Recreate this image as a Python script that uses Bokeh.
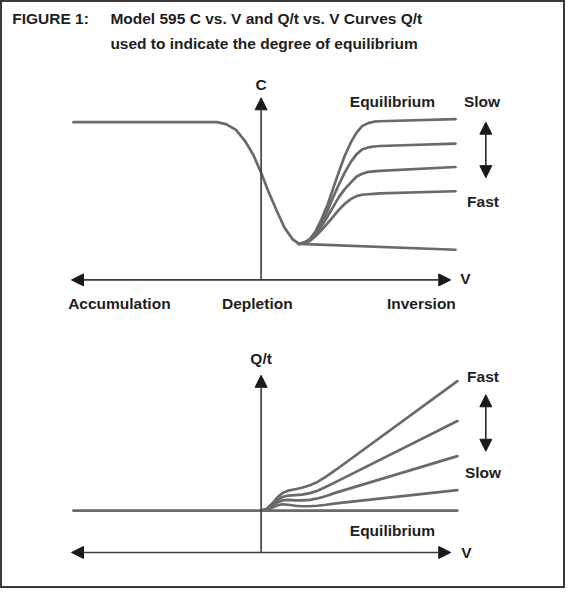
from bokeh.plotting import figure
from bokeh.models import Range1d, Arrow, NormalHead
from bokeh.core.properties import value
from bokeh.embed import file_html
from bokeh.resources import INLINE

# ---------------- data ----------------
# Top chart: C vs. V (schematic units)
dep_v = [-3.96, -0.94, -0.74, -0.53, -0.33, -0.16, 0.00, 0.16, 0.33, 0.49, 0.66, 0.80]
dep_c = [1.000, 1.000, 0.988, 0.951, 0.877, 0.790, 0.679, 0.556, 0.438, 0.333, 0.259, 0.228]

branch_v = [0.80, 0.90, 1.03, 1.15, 1.27, 1.40, 1.52, 1.64, 1.76, 1.89, 2.01, 2.13, 2.26, 2.38, 2.50, 4.10]
c_equilibrium = [0.228, 0.235, 0.259, 0.309, 0.383, 0.475, 0.580, 0.685, 0.784, 0.870, 0.932, 0.975, 0.994, 1.003, 1.006, 1.019]
c_sweep2 = [0.228, 0.235, 0.253, 0.296, 0.358, 0.438, 0.525, 0.605, 0.679, 0.747, 0.796, 0.827, 0.840, 0.846, 0.849, 0.864]
c_sweep3 = [0.228, 0.235, 0.253, 0.290, 0.340, 0.401, 0.463, 0.525, 0.574, 0.617, 0.654, 0.673, 0.685, 0.688, 0.691, 0.716]
c_sweep4 = [0.228, 0.235, 0.247, 0.278, 0.315, 0.358, 0.401, 0.444, 0.481, 0.512, 0.531, 0.540, 0.543, 0.546, 0.549, 0.562]
deep_v = [0.80, 4.10]
c_deep = [0.228, 0.191]

# Bottom chart: Q/t vs. V (schematic units)
q_flat_v = [-3.96, 4.14]
q_flat = [0.43, 0.43]
q_v = [0.00, 0.12, 0.25, 0.35, 0.45, 0.57, 0.72, 0.86, 1.03, 1.19, 1.37, 1.58, 4.14]
q_fast = [0.43, 0.45, 0.51, 0.57, 0.61, 0.635, 0.65, 0.665, 0.69, 0.725, 0.78, 0.85, 1.76]
q_sweep2 = [0.43, 0.445, 0.49, 0.54, 0.57, 0.585, 0.59, 0.595, 0.61, 0.635, 0.675, 0.725, 1.35]
q_sweep3 = [0.43, 0.44, 0.48, 0.515, 0.535, 0.54, 0.535, 0.535, 0.54, 0.555, 0.58, 0.615, 0.99]
q_slow = [0.43, 0.44, 0.465, 0.485, 0.495, 0.49, 0.48, 0.475, 0.475, 0.48, 0.49, 0.505, 0.64]

title_lead = "FIGURE 1:"
title_line1 = "Model 595 C vs. V and Q/t vs. V Curves Q/t"
title_line2 = "used to indicate the degree of equilibrium"

top_labels = ["C", "V", "Accumulation", "Depletion", "Inversion", "Equilibrium", "Slow", "Fast"]
bot_labels = ["Q/t", "V", "Equilibrium", "Fast", "Slow"]

# ---------------- layout ----------------
W, H = 565, 588
REF_W, REF_H = 581, 604
V0, VS = 268.0, 48.75        # ref-pixel of V=0, pixels per V unit
C0, CS = 287.0, 162.0        # ref-pixel of C=0, pixels per C unit
Q0, QS = 567.0, 100.0        # ref-pixel of Q=0, pixels per Q unit

p = figure(width=W, height=H, output_backend="svg", toolbar_location=None,
           x_range=Range1d(0, REF_W), y_range=Range1d(REF_H, 0),
           x_axis_type=None, y_axis_type=None, min_border=0)
p.grid.visible = False
p.outline_line_color = "#3a3a3a"
p.outline_line_width = 3
p.background_fill_color = "white"
p.border_fill_color = "white"

p.extra_x_ranges = {"v": Range1d((0 - V0) / VS, (REF_W - V0) / VS)}
p.extra_y_ranges = {
    "c": Range1d((C0 - REF_H) / CS, C0 / CS),
    "q": Range1d((Q0 - REF_H) / QS, Q0 / QS),
}

CURVE = "#6a6a6a"
AXIS = "#3c3c3c"
HEAD = "#1a1a1a"
TXT = "#1e1e1e"
FONT = value("Liberation Sans")
FS = value("15.5px")

line_kw = dict(line_color=CURVE, line_width=2.7, line_join="round", line_cap="round")

# top curves
p.line(dep_v, dep_c, x_range_name="v", y_range_name="c", **line_kw)
for cy in (c_equilibrium, c_sweep2, c_sweep3, c_sweep4):
    p.line(branch_v, cy, x_range_name="v", y_range_name="c", **line_kw)
p.line(deep_v, c_deep, x_range_name="v", y_range_name="c", **line_kw)

# bottom curves
p.line(q_flat_v, q_flat, x_range_name="v", y_range_name="q", **line_kw)
for qy in (q_fast, q_sweep2, q_sweep3, q_slow):
    p.line(q_v, qy, x_range_name="v", y_range_name="q", **line_kw)


def head():
    return NormalHead(size=12, fill_color=HEAD, fill_alpha=1.0, line_color=HEAD, line_width=1)


def arrow(x0, y0, x1, y1, yr, both=False, color=AXIS, lw=1.6):
    a = Arrow(x_start=x0, y_start=y0, x_end=x1, y_end=y1,
              x_range_name="v", y_range_name=yr,
              line_color=color, line_width=lw, end=head(),
              start=head() if both else None)
    p.add_layout(a)


# top axes
arrow(0, 0, 0, (C0 - 100) / CS, "c")
arrow(-4.0, 0, 4.0, 0, "c", both=True)
# top speed arrow
arrow(4.74, (C0 - 182) / CS, 4.74, (C0 - 125) / CS, "c", both=True, color=HEAD, lw=1.5)

# bottom axes
arrow(0, 0, 0, (Q0 - 385) / QS, "q")
arrow(-4.0, 0, 4.0, 0, "q", both=True)
arrow(4.74, (Q0 - 463) / QS, 4.74, (Q0 - 405) / QS, "q", both=True, color=HEAD, lw=1.5)

# top labels
top_x = [0.0, 4.31, -2.99, -0.08, 3.38, 2.77, 4.66, 4.68]
top_y = [1.24, 0.01, -0.148, -0.148, -0.148, 1.13, 1.13, 0.50]
p.text(top_x, top_y, text=top_labels, x_range_name="v", y_range_name="c",
       text_font=FONT, text_font_size=FS, text_font_style="bold", text_color=TXT,
       text_align="center", text_baseline="middle")

bot_x = [0.0, 4.33, 2.77, 4.68, 4.68]
bot_y = [1.99, 0.0, 0.23, 1.81, 0.82]
p.text(bot_x, bot_y, text=bot_labels, x_range_name="v", y_range_name="q",
       text_font=FONT, text_font_size=FS, text_font_style="bold", text_color=TXT,
       text_align="center", text_baseline="middle")

# title
p.text([12, 113, 113], [19, 19, 44], text=[title_lead, title_line1, title_line2],
       text_font=FONT, text_font_size=FS, text_font_style="bold", text_color=TXT,
       text_align="left", text_baseline="middle")

open("out.html", "w").write(file_html(p, INLINE))
